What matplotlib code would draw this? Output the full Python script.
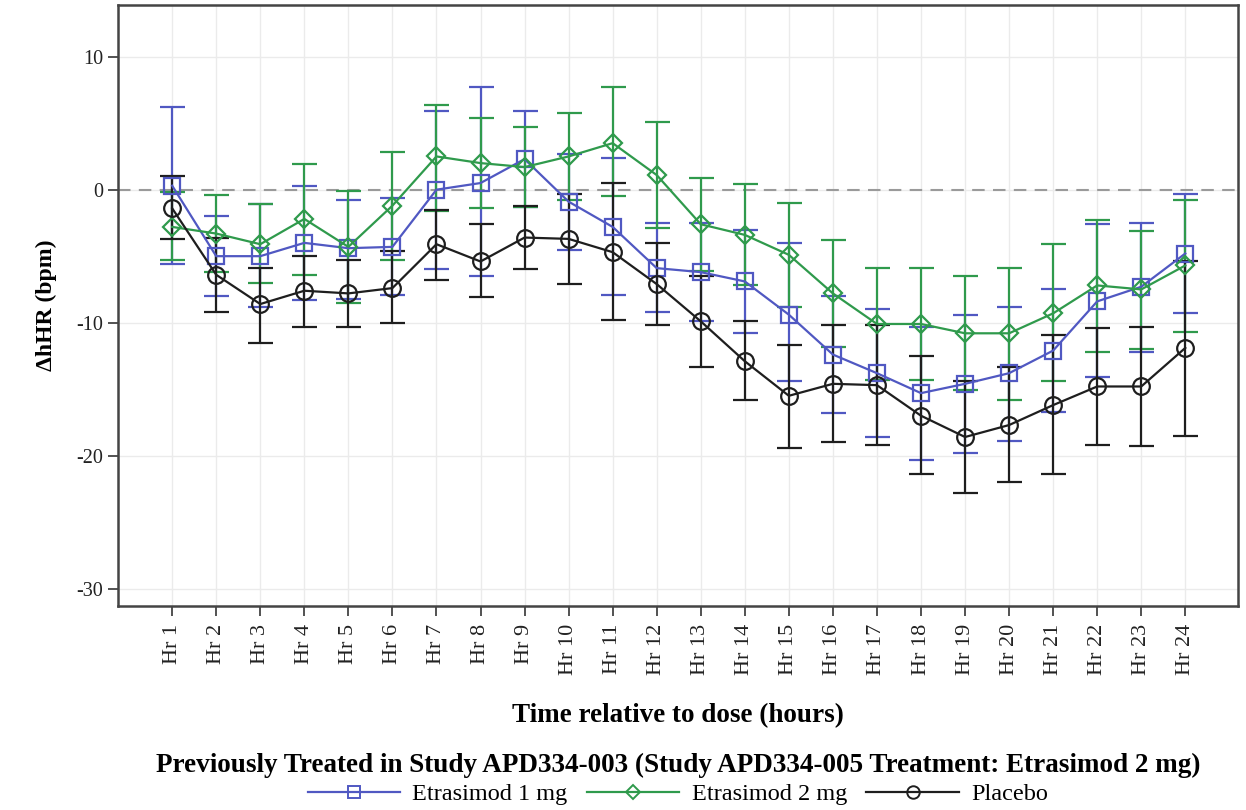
import matplotlib
matplotlib.use("Agg")
import matplotlib.pyplot as plt
from matplotlib.lines import Line2D

hours = [f"Hr {i}" for i in range(1, 25)]

mg1_mean = [0.3, -5.0, -5.0, -4.0, -4.4, -4.3, 0.0, 0.5, 2.3, -0.9, -2.8, -5.9,
            -6.2, -6.9, -9.4, -12.4, -13.8, -15.3, -14.6, -13.8, -12.1, -8.4, -7.3, -4.8]
mg1_upper = [6.2, -2.0, -1.1, 0.3, -0.8, -0.6, 5.9, 7.7, 5.9, 2.7, 2.4, -2.5,
             -2.5, -3.0, -4.0, -8.0, -9.0, -10.3, -9.4, -8.8, -7.5, -2.6, -2.5, -0.3]
mg1_lower = [-5.6, -8.0, -8.8, -8.3, -8.2, -7.9, -6.0, -6.5, -1.3, -4.5, -7.9, -9.2,
             -9.9, -10.8, -14.4, -16.8, -18.6, -20.3, -19.8, -18.9, -16.7, -14.1, -12.2, -9.3]

mg2_mean = [-2.8, -3.3, -4.1, -2.2, -4.3, -1.2, 2.5, 2.0, 1.7, 2.5, 3.5, 1.1,
            -2.6, -3.4, -4.9, -7.8, -10.1, -10.1, -10.8, -10.8, -9.3, -7.2, -7.5, -5.7]
mg2_upper = [-0.2, -0.4, -1.1, 1.9, -0.1, 2.8, 6.4, 5.4, 4.7, 5.8, 7.7, 5.1,
             0.9, 0.4, -1.0, -3.8, -5.9, -5.9, -6.5, -5.9, -4.1, -2.3, -3.1, -0.75]
mg2_lower = [-5.3, -6.2, -7.0, -6.4, -8.5, -5.3, -1.6, -1.4, -1.3, -0.8, -0.5, -2.9,
             -6.1, -7.2, -8.8, -11.8, -14.3, -14.3, -15.1, -15.8, -14.4, -12.2, -12.0, -10.7]

pbo_mean = [-1.4, -6.4, -8.6, -7.6, -7.8, -7.4, -4.1, -5.4, -3.6, -3.7, -4.7, -7.1,
            -9.9, -12.9, -15.5, -14.6, -14.7, -17.0, -18.6, -17.7, -16.2, -14.8, -14.8, -11.9]
pbo_upper = [1.0, -3.6, -5.9, -5.0, -5.3, -4.6, -1.5, -2.6, -1.2, -0.3, 0.5, -4.0,
             -6.5, -9.9, -11.7, -10.2, -10.2, -12.5, -14.4, -13.3, -10.9, -10.4, -10.3, -5.4]
pbo_lower = [-3.7, -9.2, -11.5, -10.3, -10.3, -10.0, -6.8, -8.1, -6.0, -7.1, -9.8, -10.2,
             -13.3, -15.8, -19.4, -19.0, -19.2, -21.4, -22.8, -22.0, -21.4, -19.2, -19.3, -18.5]

series_names = ["Etrasimod 1 mg", "Etrasimod 2 mg", "Placebo"]
yticks = [10, 0, -10, -20, -30]

plt.rcParams['font.family'] = ['Liberation Serif', 'DejaVu Serif']

fig = plt.figure(figsize=(12.46, 8.10), dpi=100)
ax = fig.add_axes([0.0947, 0.252, 0.899, 0.742])

x = list(range(len(hours)))
styles = [
    (mg1_mean, mg1_lower, mg1_upper, "#5058c2", "s", 11),
    (mg2_mean, mg2_lower, mg2_upper, "#2f9a4c", "D", 9),
    (pbo_mean, pbo_lower, pbo_upper, "#1e1e1e", "o", 12),
]

ax.axhline(0, color="#9a9a9a", lw=1.5, ls=(0, (6, 4)), zorder=1)

handles = []
for (m, lo, up, c, mk, ms), name in zip(styles, series_names):
    yerr = [[mi - l for mi, l in zip(m, lo)], [u - mi for mi, u in zip(m, up)]]
    ax.errorbar(x, m, yerr=yerr, color=c, lw=1.6, elinewidth=1.6, capsize=9,
                capthick=1.6, marker=mk, ms=ms, mfc="none", mec=c, mew=1.6, zorder=3)
    handles.append(Line2D([], [], color=c, lw=1.6, marker=mk, ms=ms * 0.75,
                          mfc="none", mec=c, mew=1.4))

ax.set_xlim(-1.23, 24.2)
ax.set_ylim(-31.3, 13.9)
ax.set_xticks(x)
ax.set_xticklabels(hours, rotation=90, fontsize=16)
ax.set_yticks(yticks)
ax.set_yticklabels([str(v) for v in yticks], fontsize=14.5)
ax.grid(True, color="#ebebeb", lw=1.0, zorder=0)
ax.set_axisbelow(True)
for sp in ax.spines.values():
    sp.set_color("#444444")
    sp.set_linewidth(1.8)
ax.tick_params(axis="both", direction="out", length=7, width=1.3, color="#444444",
               labelcolor="#222222")
ax.tick_params(axis="x", pad=6)

ax.set_ylabel("ΔhHR (bpm)", fontsize=17, fontweight="bold", labelpad=14)
ax.set_xlabel("Time relative to dose (hours)", fontsize=19.5, fontweight="bold", labelpad=20)

leg = fig.legend(handles, series_names, loc="lower center", bbox_to_anchor=(0.544, -0.012),
                 ncol=3, frameon=False, fontsize=17.5, handlelength=3.8,
                 columnspacing=0.8, handletextpad=0.5, borderaxespad=0.2,
                 title="Previously Treated in Study APD334-003 (Study APD334-005 Treatment: Etrasimod 2 mg)",
                 title_fontproperties={"family": "Liberation Serif", "weight": "bold", "size": 19.5})
leg._legend_box.sep = 4

fig.savefig("out.png", dpi=100)
